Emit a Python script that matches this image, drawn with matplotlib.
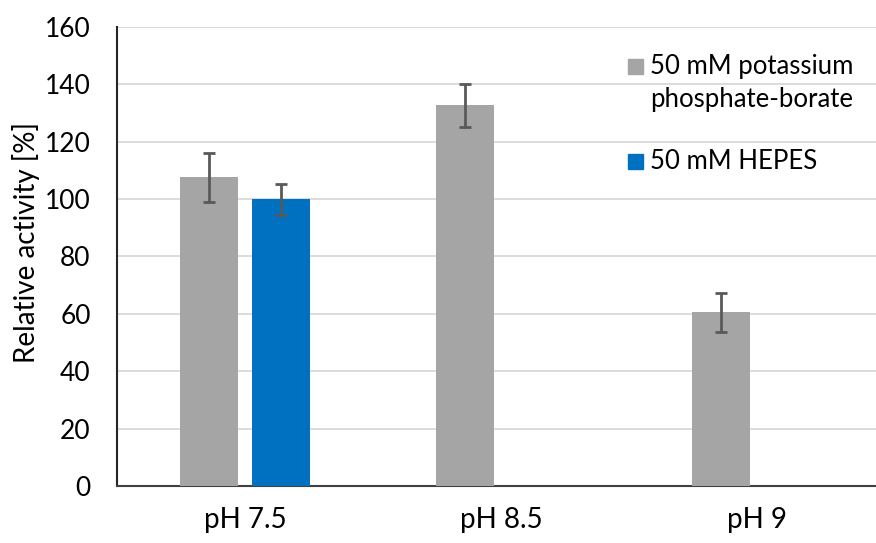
import numpy as np
import matplotlib.pyplot as plt
from matplotlib.patches import Rectangle

# data
categories = ["pH 7.5", "pH 8.5", "pH 9"]
kpb_vals = [107.6, 132.7, 60.6]
kpb_err = [8.6, 7.6, 6.8]
hepes_cats = ["pH 7.5"]
hepes_vals = [100.0]
hepes_err = [5.4]

gray = "#A5A5A5"
blue = "#0070C0"

plt.rcParams["font.family"] = ["Lato", "DejaVu Sans"]

fig = plt.figure(figsize=(8.76, 5.43), dpi=100)
ax = fig.add_axes([0.1336, 0.105, 0.8767, 0.8453])

x = np.arange(len(categories))
w = 0.226
off = 0.142
hx = [categories.index(c) for c in hepes_cats]

ekw = dict(ecolor="#595959", elinewidth=2, capsize=4.5, capthick=2)
ax.bar(x - off, kpb_vals, w, color=gray, yerr=kpb_err, error_kw=ekw, zorder=3)
ax.bar(np.array(hx) + off, hepes_vals, w, color=blue, yerr=hepes_err, error_kw=ekw, zorder=3)

ax.set_xlim(-0.5, 2.5)
ax.set_ylim(0, 160)
ax.set_yticks(range(0, 161, 20))
ax.set_xticks(x)
ax.set_xticklabels(categories)
ax.tick_params(axis="both", length=0, colors="#000000")
ax.tick_params(axis="y", pad=19, labelsize=19)
ax.tick_params(axis="x", pad=15, labelsize=20)
ax.grid(axis="y", color="#D9D9D9", linewidth=1.3, zorder=0)
ax.set_axisbelow(True)
for s in ["top", "right"]:
    ax.spines[s].set_visible(False)
ax.spines["left"].set_color("#262626")
ax.spines["left"].set_linewidth(1.5)
ax.spines["bottom"].set_color("#404040")
ax.spines["bottom"].set_linewidth(1.5)
ax.set_ylabel("Relative activity [%]", fontsize=20)
ax.yaxis.set_label_coords(-0.1, 0.53)

# legend drawn by hand so the square lines up with the first text line
sq_w = 15 / 768
sq_h = 15 / 459
legend_items = [
    (gray, ["50 mM potassium", "phosphate-borate"], 0.915),
    (blue, ["50 mM HEPES"], 0.708),
]
for col, lines, yy in legend_items:
    ax.add_patch(Rectangle((0.665, yy - sq_h / 2), sq_w, sq_h, transform=ax.transAxes,
                           color=col, clip_on=False, zorder=4))
    for i, ln in enumerate(lines):
        ax.text(0.694, yy - i * 0.074, ln, transform=ax.transAxes, fontsize=18.5,
                va="center", ha="left")

fig.savefig("out.png", dpi=100)
